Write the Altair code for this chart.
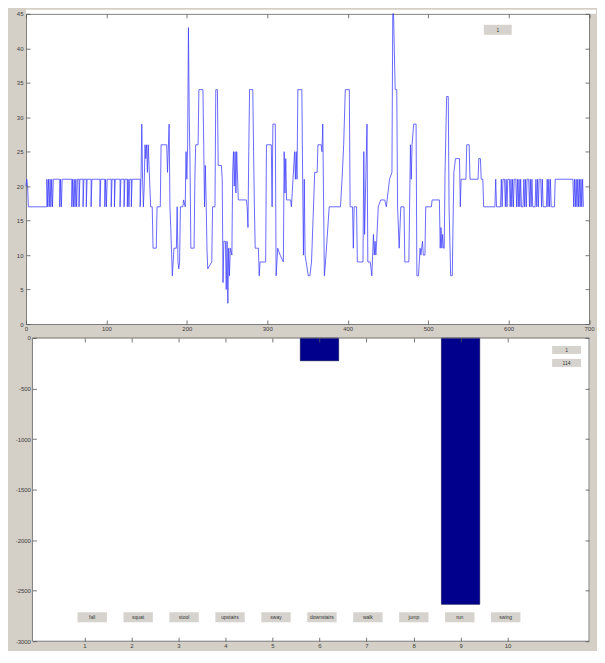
import altair as alt
import pandas as pd

# ---------------- data ----------------
# top panel: signal trace (x sample, y value), split into stretches
quiet_start = [(0,20),(1,21),(2,20),(3,17),(26,17),(26,21),(27,17),(28,21),(29,17),(30,21),(31,17),(32,21),(33,17),(34,21),
               (42,21),(42,17),(43,21),(44,17),(45,21),(57,21),(57,17),(58,21),(59,17),(60,21),(61,17),(62,21),(63,17),(64,21),
               (66,21),(66,17),(67,21),(71,21),(71,17),(72,21),(75,21),(75,17),(76,21),(81,21),(81,17),(82,21),(92,21),(92,17),
               (93,21),(98,21),(98,17),(99,21),(100,17),(101,21),(106,21),(106,17),(107,21),(110,21),(110,17),(111,21),(117,21),
               (117,17),(118,21),(122,21),(122,17),(123,21),(126,21),(126,17),(127,21),(128,17),(129,21),(131,21),(131,17),
               (132,21),(142,21),(142,17),(143,21)]
burst_a = [(144,29),(145,21),(146,17),(147,20),(148,26),(149,24),(150,26),(151,22),(152,26),(153,23),(155,17),(157,17),
           (158,11),(162,11),(163,17),(167,17),(168,26),(175,26),(176,22),(178,29),(179,17),(180,14),(182,7),(183,9),(184,11),
           (187,11),(188,17),(189,9),(190,8),(191,9),(192,17),(195,17),(196,18),(198,17),(199,25),(200,21),(201,26),(202,43),
           (203,30),(204,23),(205,11),(209,11),(210,21),(211,26),(214,26),(215,34),(220,34),(221,26),(222,17),(223,23),(224,18),
           (225,11),(226,8),(231,9),(232,17),(235,17),(236,34),(238,34),(239,23),(243,23),(244,21),(245,6),(246,12),(248,12),
           (249,5),(250,12),(251,3),(252,11),(253,7),(254,11),(256,10),(257,22),(258,25),(259,20),(260,25),(261,19),(262,25),
           (264,18),(274,18),(275,17),(276,14),(277,25),(278,34),(282,34),(283,25),(284,17),(285,11),(289,11),(290,7),(291,9),
           (298,9),(299,26)]
burst_b = [(305,26),(306,17),(307,29),(310,29),(311,7),(313,11),(316,10),(320,9),(321,25),(322,19),(323,24),(324,18),(329,18),
           (330,17),(334,25),(335,21),(336,25),(337,21),(338,34),(343,34),(344,21),(345,10),(346,21),(347,10),(351,7),(353,7),
           (355,9),(359,22),(362,22),(363,26),(367,26),(368,25),(369,29),(371,7),(373,10),(377,17),(391,17),(393,21),(395,26),
           (397,34),(402,34),(403,17),(406,17),(407,11),(408,17),(411,17),(412,9),(419,9),(420,25),(421,13),(423,24),(424,29),
           (425,9),(428,9),(430,7),(432,13),(433,10),(434,12),(435,10),(436,12),(438,17),(441,18),(446,18),(448,17),(452,21),
           (455,22),(456,45),(457,45),(459,34),(461,34),(462,17),(464,11),(466,17),(470,17),(471,9),(476,9)]
burst_c = [(478,26),(479,21),(480,26),(482,29),(485,29),(486,7),(488,7),(490,11),(491,10),(493,12),(494,10),(496,10),(497,17),
           (504,17),(505,18),(514,18),(515,11),(516,14),(517,11),(518,13),(519,11),(520,11),(521,22),(523,33),(525,33),(526,17),
           (528,7),(530,7),(531,15),(532,22),(534,24),(539,24),(540,17),(541,21),(547,21),(548,26),(551,26),(552,21),(562,21),
           (563,24),(565,24),(566,21),(568,21),(569,17)]
quiet_end = [(583,17),(584,21),(585,17),(590,17),(591,21),(592,17),(593,21),(595,21),(596,17),(597,21),(598,17),(599,21),
             (601,21),(602,17),(603,21),(604,17),(605,21),(606,17),(607,21),(609,21),(610,17),(611,21),(612,17),(613,21),
             (614,17),(615,21),(616,17),(618,17),(619,21),(620,17),(621,21),(622,17),(623,21),(625,21),(626,17),(627,21),
             (628,17),(629,21),(630,17),(633,17),(634,21),(635,17),(636,21),(637,17),(638,21),(640,21),(641,17),(642,21),
             (643,17),(647,17),(648,21),(649,17),(650,21),(651,17),(652,21),(653,17),(657,17),(658,21),(680,21),(681,17),
             (682,21),(683,17),(684,21),(685,17),(686,21),(687,17),(688,21),(689,17),(690,21),(691,17),(692,21),(693,17)]

top_x_ticks = [0, 100, 200, 300, 400, 500, 600, 700]
top_y_ticks = [0, 5, 10, 15, 20, 25, 30, 35, 40, 45]
top_box_text = ["1"]

# bottom panel: bars per activity
activity_ids = [1, 2, 3, 4, 5, 6, 7, 8, 9, 10]
activity_values = [0, 0, 0, 0, 0, -225, 0, 0, -2635, 0]
activity_names = ["fall", "squat", "stool", "upstairs", "sway", "downstairs", "walk", "jump", "run", "swing"]
bot_x_ticks = [1, 2, 3, 4, 5, 6, 7, 8, 9, 10]
bot_y_ticks = [0, -500, -1000, -1500, -2000, -2500, -3000]
bot_box_texts = ["1", "114"]

# ---------------- styling / layout ----------------
FIG_GRAY = "#d4d0c8"
BTN = "#d6d3ce"
BORDER = "#7c7c7c"
W1, H1 = 564.5, 311
W2, H2 = 564.5, 304
LEFT_GAP, TOP_GAP = 17.5, 4
EXTRA_R, EXTRA_B = 7, 9
BOX_LEFT = 6.5          # bottom white box starts 6.5px right of top box
PX_PER_UNIT = 48.0
SVG_W, SVG_H = 589, 641  # keep the page inside the 605x663 window

tick_style = dict(labelFont="Liberation Sans", labelFontSize=6, labelColor="#3c3c3c",
                  tickColor="#555555", tickWidth=0.8, domain=False, grid=False, title=None,
                  labelFlush=False, labelOverlap=False, labelBound=False, zindex=1)

trace = quiet_start + burst_a + burst_b + burst_c + quiet_end
line_df = pd.DataFrame({"i": list(range(len(trace))),
                        "x": [p[0] for p in trace],
                        "y": [p[1] for p in trace]})
one = pd.DataFrame({"k": [0]})

# ---------------- top panel ----------------
xs_top = alt.Scale(domain=[0, 700], nice=False, zero=False)
ys_top = alt.Scale(domain=[0, 45], nice=False, zero=False)

top_bg = alt.Chart(one).mark_rect(color=FIG_GRAY).encode(
    x=alt.value(-LEFT_GAP), x2=alt.value(0), y=alt.value(-TOP_GAP), y2=alt.value(H1))
top_white = alt.Chart(one).mark_rect(color="white").encode(
    x=alt.value(0), x2=alt.value(W1 + EXTRA_R), y=alt.value(-TOP_GAP), y2=alt.value(0))

top_line = alt.Chart(line_df).mark_line(color="#3d3dff", strokeWidth=0.85, opacity=0.9).encode(
    x=alt.X("x:Q", scale=xs_top, axis=alt.Axis(orient="bottom", values=top_x_ticks, offset=-4,
                                               tickSize=4, labelPadding=2, **tick_style)),
    y=alt.Y("y:Q", scale=ys_top, axis=alt.Axis(orient="left", values=top_y_ticks, offset=-4,
                                               tickSize=4, labelPadding=3, **tick_style)),
    order=alt.Order("i:Q"),
)
top_frame = alt.Chart(pd.DataFrame({"x": [0, 700], "y": [0, 45]})).mark_point(opacity=0, size=1).encode(
    x=alt.X("x:Q", scale=xs_top, axis=alt.Axis(orient="top", values=top_x_ticks, offset=-4,
                                               tickSize=4, labels=False, **tick_style)),
    y=alt.Y("y:Q", scale=ys_top, axis=alt.Axis(orient="right", values=top_y_ticks, offset=-4,
                                               tickSize=4, labels=False, **tick_style)),
)
top_box = alt.Chart(pd.DataFrame({"t": top_box_text})).mark_rect(color=BTN).encode(
    x=alt.value(459), x2=alt.value(487), y=alt.value(11), y2=alt.value(21))
top_box_txt = alt.Chart(pd.DataFrame({"t": top_box_text})).mark_text(
    fontSize=5, color="#333333", font="Liberation Sans", baseline="middle").encode(
    x=alt.value(473), y=alt.value(16), text="t:N")

top = alt.layer(top_bg, top_white, top_line, top_frame, top_box, top_box_txt).resolve_axis(
    x="independent", y="independent").properties(
    width=W1, height=H1, view=alt.ViewBackground(fill="white", stroke=BORDER, strokeWidth=1))

# ---------------- bottom panel ----------------
xs_bot = alt.Scale(domain=[-BOX_LEFT / PX_PER_UNIT, (W2 - BOX_LEFT) / PX_PER_UNIT], nice=False, zero=False)
ys_bot = alt.Scale(domain=[-3000, 0], nice=False)

bar_df = pd.DataFrame({"id": activity_ids, "value": activity_values})
btn_df = pd.DataFrame({"name": activity_names, "slot": list(range(len(activity_names)))})

bot_strip = alt.Chart(one).mark_rect(color=FIG_GRAY).encode(
    x=alt.value(-1), x2=alt.value(BOX_LEFT), y=alt.value(-1), y2=alt.value(H2 + 1))
bot_under = alt.Chart(one).mark_rect(color=FIG_GRAY).encode(
    x=alt.value(-1), x2=alt.value(W2 + EXTRA_R), y=alt.value(H2), y2=alt.value(H2 + EXTRA_B))

bars = alt.Chart(bar_df).transform_filter("datum.value != 0").mark_bar(
    orient="vertical", size=38.4, color="#00008c", stroke="#00004a", strokeWidth=0.6).encode(
    x=alt.X("id:Q", scale=xs_bot, axis=alt.Axis(orient="bottom", values=bot_x_ticks, offset=-4,
                                                tickSize=4, labelPadding=1, **tick_style)),
    y=alt.Y("value:Q", scale=ys_bot, axis=alt.Axis(orient="left", values=bot_y_ticks, offset=-(BOX_LEFT + 4),
                                                   tickSize=4, labelPadding=2, labelExpr="datum.value + ''",
                                                   **tick_style)),
    y2=alt.datum(0),
)
bot_frame = alt.Chart(pd.DataFrame({"x": [1, 10], "y": [-3000, 0]})).mark_point(opacity=0, size=1).encode(
    x=alt.X("x:Q", scale=xs_bot, axis=alt.Axis(orient="top", values=bot_x_ticks, offset=-4,
                                               tickSize=4, labels=False, **tick_style)),
    y=alt.Y("y:Q", scale=ys_bot, axis=alt.Axis(orient="right", values=bot_y_ticks, offset=-4,
                                               tickSize=4, labels=False, **tick_style)),
)
btn_base = alt.Chart(btn_df).transform_calculate(
    cx="1.167 + 0.977 * datum.slot", x0="1.167 + 0.977 * datum.slot - 0.3125",
    x1="1.167 + 0.977 * datum.slot + 0.3125")
btn_rects = btn_base.mark_rect(color=BTN).encode(
    x=alt.X("x0:Q", scale=xs_bot, axis=None), x2="x1:Q", y=alt.value(275), y2=alt.value(285))
btn_text = btn_base.mark_text(fontSize=5, color="#333333", font="Liberation Sans", baseline="middle").encode(
    x=alt.X("cx:Q", scale=xs_bot, axis=None), y=alt.value(280), text="name:N")

box1_df = pd.DataFrame({"t": [bot_box_texts[0]]})
box2_df = pd.DataFrame({"t": [bot_box_texts[1]]})
box1 = alt.Chart(box1_df).mark_rect(color=BTN).encode(
    x=alt.value(527.5), x2=alt.value(556.5), y=alt.value(8), y2=alt.value(16))
box1_t = alt.Chart(box1_df).mark_text(fontSize=5, color="#333333", font="Liberation Sans", baseline="middle").encode(
    x=alt.value(542), y=alt.value(12), text="t:N")
box2 = alt.Chart(box2_df).mark_rect(color=BTN).encode(
    x=alt.value(527.5), x2=alt.value(556.5), y=alt.value(21), y2=alt.value(29))
box2_t = alt.Chart(box2_df).mark_text(fontSize=5, color="#333333", font="Liberation Sans", baseline="middle").encode(
    x=alt.value(542), y=alt.value(25), text="t:N")

bot_border = alt.Chart(one).mark_rect(fillOpacity=0, stroke=BORDER, strokeWidth=1).encode(
    x=alt.value(BOX_LEFT), x2=alt.value(W2), y=alt.value(0), y2=alt.value(H2))

bottom = alt.layer(bot_strip, bot_under, bars, bot_frame, btn_rects, btn_text, box1, box1_t, box2, box2_t,
                   bot_border).resolve_axis(x="independent", y="independent").properties(
    width=W2, height=H2, view=alt.ViewBackground(fill="white", stroke="transparent"))

content_w = LEFT_GAP + W1 + EXTRA_R
content_h = TOP_GAP + H1 + 14 + H2 + EXTRA_B
chart = alt.vconcat(top, bottom, spacing=14, bounds="flush").properties(
    padding={"left": 0, "top": 0, "right": SVG_W - content_w, "bottom": SVG_H - content_h},
    background=FIG_GRAY)

chart.save("out.html", embed_options={"renderer": "svg", "actions": False})
